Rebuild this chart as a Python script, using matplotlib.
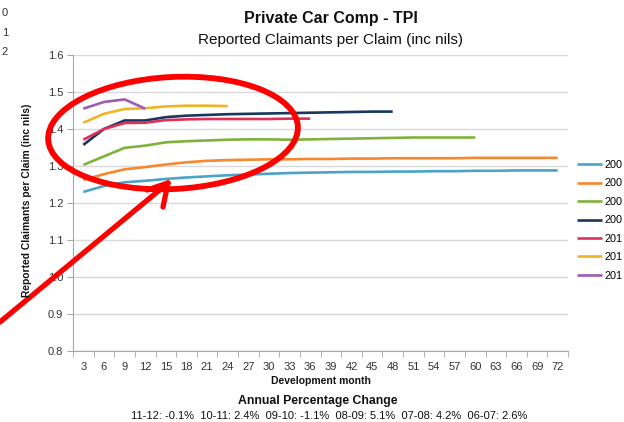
import matplotlib
matplotlib.use("Agg")
import matplotlib.pyplot as plt
from matplotlib.patches import Ellipse
from matplotlib.lines import Line2D

plt.rcParams['font.family'] = ['Liberation Sans', 'DejaVu Sans']

# Development months (category axis)
months = list(range(3, 75, 3))

years = ['2006', '2007', '2008', '2009', '2010', '2011', '2012']
colors = ['#4BA3C8', '#F7862E', '#7FB23A', '#17375E', '#E0305A', '#EBB526', '#A05AB0']

y2006 = [1.230, 1.246, 1.256, 1.260, 1.265, 1.269, 1.272, 1.275, 1.277, 1.279, 1.281, 1.282,
         1.283, 1.284, 1.284, 1.285, 1.285, 1.286, 1.286, 1.287, 1.287, 1.288, 1.288, 1.288]
y2007 = [1.262, 1.278, 1.291, 1.297, 1.304, 1.310, 1.314, 1.316, 1.317, 1.318, 1.318, 1.319,
         1.319, 1.320, 1.320, 1.321, 1.321, 1.321, 1.321, 1.322, 1.322, 1.322, 1.322, 1.322]
y2008 = [1.303, 1.326, 1.349, 1.355, 1.364, 1.367, 1.369, 1.371, 1.372, 1.372, 1.371, 1.372,
         1.373, 1.374, 1.375, 1.376, 1.377, 1.377, 1.377, 1.377]
y2009 = [1.357, 1.400, 1.423, 1.423, 1.432, 1.436, 1.438, 1.440, 1.441, 1.442, 1.443, 1.444,
         1.445, 1.446, 1.447, 1.447]
y2010 = [1.371, 1.400, 1.416, 1.417, 1.424, 1.426, 1.427, 1.427, 1.427, 1.427, 1.428, 1.428]
y2011 = [1.417, 1.441, 1.454, 1.456, 1.461, 1.463, 1.463, 1.462]
y2012 = [1.455, 1.473, 1.480, 1.455]

series = [y2006, y2007, y2008, y2009, y2010, y2011, y2012]

changes = ['11-12: -0.1%', '10-11: 2.4%', '09-10: -1.1%', '08-09: 5.1%', '07-08: 4.2%', '06-07: 2.6%']

W, H = 624, 422
fig = plt.figure(figsize=(W / 100, H / 100), dpi=100)
ax = fig.add_axes([73 / W, 1 - 351 / H, (568 - 73) / W, (351 - 55) / H])

handles = []
for yrs, vals, c in zip(years, series, colors):
    ln, = ax.plot(months[:len(vals)], vals, color=c, lw=1.9, solid_capstyle='butt')
    handles.append(ln)

ax.set_xlim(1.5, 73.5)
ax.set_ylim(0.8, 1.6)
ax.set_xticks(months)
ax.set_xticks([m - 1.5 for m in months] + [73.5], minor=True)
ax.tick_params(axis='x', which='major', length=0, labelsize=8, colors='#333333', pad=8)
ax.tick_params(axis='x', which='minor', length=4, color='#A6A6A6', direction='out')
ax.set_yticks([0.8 + 0.1 * i for i in range(9)])
ax.set_yticklabels(['%.1f' % (0.8 + 0.1 * i) for i in range(9)])
ax.tick_params(axis='y', length=4, color='#A6A6A6', labelsize=8, colors='#333333', pad=3)
ax.yaxis.grid(True, color='#D9D9D9', lw=1)
ax.set_axisbelow(True)
for s in ['top', 'right']:
    ax.spines[s].set_visible(False)
for s in ['left', 'bottom']:
    ax.spines[s].set_color('#A6A6A6')

def px(x, y):
    return x / W, 1 - y / H

fig.text(*px(331, 18), 'Private Car Comp - TPI', ha='center', va='center',
         fontsize=11.5, fontweight='bold', color='#111111')
fig.text(*px(331, 40), 'Reported Claimants per Claim (inc nils)', ha='center', va='center',
         fontsize=11, color='#111111')
fig.text(*px(27, 200), 'Reported Claimants per Claim (inc nils)', ha='center', va='center',
         rotation=90, fontsize=7.4, fontweight='bold', color='#111111')
fig.text(*px(321, 381), 'Development month', ha='center', va='center',
         fontsize=7.5, fontweight='bold', color='#111111')
fig.text(*px(318, 401), 'Annual Percentage Change', ha='center', va='center',
         fontsize=8.8, fontweight='bold', color='#111111')
fig.text(*px(329, 416), '  '.join(changes), ha='center', va='center',
         fontsize=8, color='#111111')

# stray label fragments at top-left
for i, t in enumerate(['0', '1', '2']):
    fig.text(*px(5, 13 + 19.5 * i), t, ha='center', va='center', fontsize=8, color='#333333')

# legend (labels truncated as in original)
leg = fig.legend(handles, [y[:3] for y in years], loc='upper left',
                 bbox_to_anchor=(577 / W, 1 - 160 / H), frameon=False,
                 fontsize=7.8, handlelength=2.3, handletextpad=0.2,
                 labelspacing=0.78, borderaxespad=0, borderpad=0)

# red hand-drawn annotation
inch = fig.dpi_scale_trans
ell = Ellipse((173 / 100, (H - 133) / 100), 2.50, 1.12, angle=3, fill=False,
              edgecolor='#FF0000', lw=4.2, transform=inch, clip_on=False)
fig.add_artist(ell)
arrow_pts = [((0, 322), (168, 183)), ((168, 183), (147, 190)), ((168, 183), (163, 207))]
for (x0, y0), (x1, y1) in arrow_pts:
    fig.add_artist(Line2D([x0 / 100, x1 / 100], [(H - y0) / 100, (H - y1) / 100],
                          color='#FF0000', lw=3.8, transform=inch, solid_capstyle='round'))

fig.savefig('out.png', dpi=100)
